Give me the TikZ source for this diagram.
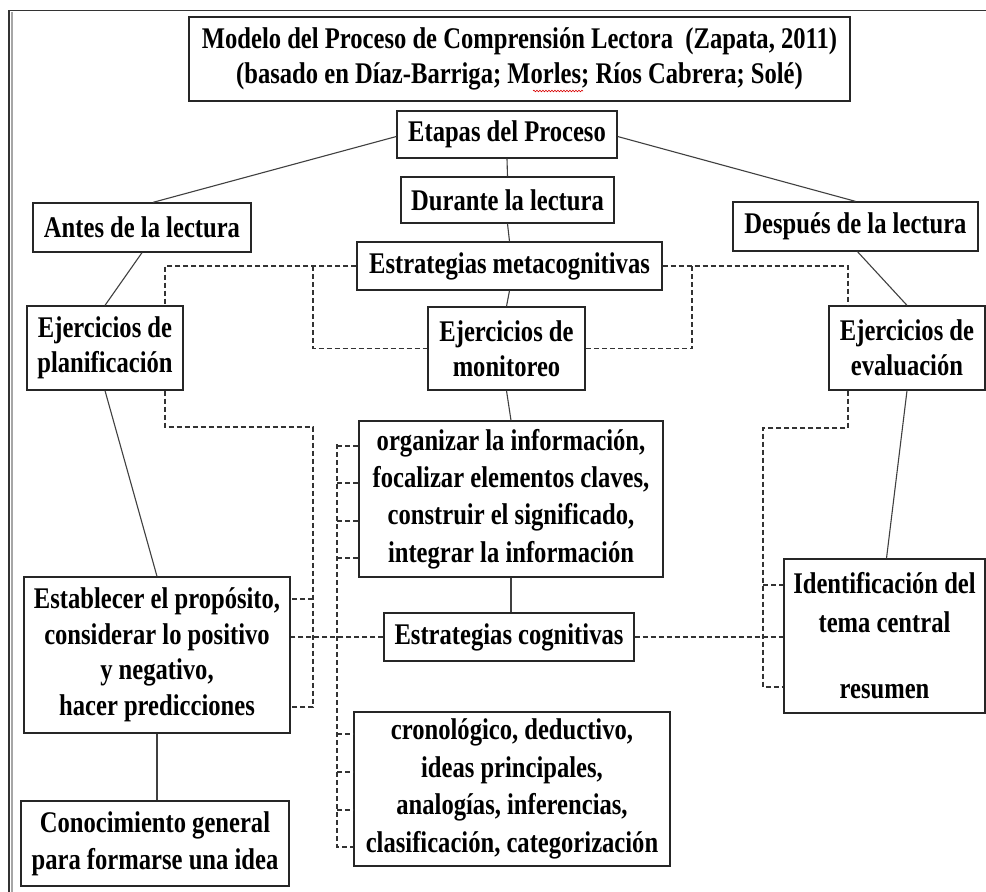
\documentclass[tikz,border=0pt]{standalone}
\usepackage{fontspec}
\setmainfont{Liberation Serif}[FakeStretch=0.82]
\usetikzlibrary{decorations.pathmorphing,calc}
\begin{document}
\begin{tikzpicture}[x=1pt,y=-1pt,
  box/.style={draw=black!85, line width=1.3pt, fill=white, inner sep=0pt, align=center,
    font=\bfseries\fontsize{30}{36.5}\selectfont},
  link/.style={draw=black!75, line width=1.1pt},
  dlink/.style={draw=black!80, line width=1.1pt, dash pattern=on 5pt off 3pt}]
\useasboundingbox (0,0) rectangle (986,892);
\fill[white] (0,0) rectangle (986,892);
% frame
\draw[line width=1.6pt, black!80] (986,10.5) -- (9,10.5) -- (9,892);
\draw[line width=1.2pt, black!35] (12,12) -- (12,892);

% boxes
\node[box, minimum width=661pt, minimum height=84pt, font=\bfseries\fontsize{30}{34.5}\selectfont] (title) at (519.5,59)
  {Modelo del Proceso de Comprensión Lectora\ \ (Zapata, 2011)\\(basado en Díaz-Barriga; Morles; Ríos Cabrera; Solé)};
\node[box, minimum width=220pt, minimum height=47pt] (etapas) at (507,134.5) {Etapas del Proceso};
\node[box, minimum width=213pt, minimum height=46pt] (durante) at (507.5,200) {Durante la lectura};
\node[box, minimum width=218pt, minimum height=49pt] (antes) at (142,227.5) {Antes de la lectura};
\node[box, minimum width=245pt, minimum height=49pt] (despues) at (855.5,226.5) {Después de la lectura};
\node[box, minimum width=305pt, minimum height=48pt] (meta) at (509.5,266) {Estrategias metacognitivas};
\node[box, minimum width=156pt, minimum height=84pt, font=\bfseries\fontsize{30}{35}\selectfont] (plan) at (105,348) {Ejercicios de\\planificación};
\node[box, minimum width=157pt, minimum height=83pt, font=\bfseries\fontsize{30}{35}\selectfont] (monit) at (506.5,348.5) {Ejercicios de\\monitoreo};
\node[box, minimum width=156pt, minimum height=84pt, font=\bfseries\fontsize{30}{35}\selectfont] (evalu) at (907,348) {Ejercicios de\\evaluación};
\node[box, minimum width=304pt, minimum height=156pt, font=\bfseries\fontsize{30}{37.3}\selectfont] (organ) at (511,499)
  {organizar la información,\\focalizar elementos claves,\\construir el significado,\\integrar la información};
\node[box, minimum width=266pt, minimum height=156pt, font=\bfseries\fontsize{30}{35.5}\selectfont] (estab) at (157,655)
  {Establecer el propósito,\\considerar lo positivo\\y negativo,\\hacer predicciones};
\node[box, minimum width=250pt, minimum height=48pt] (cogn) at (509,637) {Estrategias cognitivas};
\node[box, minimum width=201pt, minimum height=154pt, font=\bfseries\fontsize{30}{39}\selectfont] (ident) at (884.5,636)
  {Identificación del\\tema central\\[27pt]resumen};
\node[box, minimum width=316pt, minimum height=154pt, font=\bfseries\fontsize{30}{37.7}\selectfont] (crono) at (512,789)
  {cronológico, deductivo,\\ideas principales,\\analogías, inferencias,\\clasificación, categorización};
\node[box, minimum width=268pt, minimum height=85pt, font=\bfseries\fontsize{30}{37}\selectfont] (conoc) at (155,843.5)
  {Conocimiento general\\para formarse una idea};

% spell-check mark
\draw[red!85!black, line width=0.6pt, decorate, decoration={snake, amplitude=0.8pt, segment length=3pt}] (533,91) -- (583,91);

% solid connectors
\draw[link] ([yshift=-2pt]etapas.west) -- ([xshift=11pt]antes.north);
\draw[link] ([yshift=-2pt]etapas.east) -- (despues.north);
\draw[link] (etapas.south) -- (durante.north);
\draw[link] (durante.south) -- (meta.north);
\draw[link] (antes.south) -- (plan.north);
\draw[link] ([xshift=2pt]despues.south) -- (evalu.north);
\draw[link] (meta.south) -- (monit.north);
\draw[link] (monit.south) -- (organ.north);
\draw[link] (plan.south) -- (estab.north);
\draw[link] (evalu.south) -- ([xshift=2pt]ident.north);
\draw[link] (organ.south) -- (organ.south |- cogn.north);
\draw[link] (estab.south) -- (estab.south |- conoc.north);

% dashed connectors
\coordinate (ml) at (313,266);
\coordinate (mr) at (692,266);
\coordinate (lb) at (313,427);
\coordinate (lbb) at (313,707);
\coordinate (lt) at (313,599);
\coordinate (rb) at (763,428);
\coordinate (rbb) at (763,687);
\coordinate (rt) at (763,585);
\coordinate (ct) at (337,444);
\coordinate (cb) at (337,847);

\draw[dlink] (meta.west) -| ([xshift=60pt]plan.north);
\draw[dlink] ([xshift=60pt]plan.south) |- (lb) -- (lbb) -- (lbb -| estab.east);
\draw[dlink] (lt) -- (lt -| estab.east);
\draw[dlink] (ml) |- (monit.west);
\draw[dlink] (mr) |- (monit.east);
\draw[dlink] (meta.east) -| ([xshift=-59pt]evalu.north);
\draw[dlink] ([xshift=-59pt]evalu.south) |- (rb) -- (rbb) -- (rbb -| ident.west);
\draw[dlink] (rt) -- (rt -| ident.west);
\draw[dlink] (cogn.east) -- (cogn.east -| ident.west);
\draw[dlink] (cogn.west) -- (cogn.west -| estab.east);
\draw[dlink] (ct) -- (cb) -- (cb -| crono.west);
\foreach \yy in {446,483,521,558} {
  \coordinate (tk) at (337,\yy);
  \draw[dlink] (tk) -- (tk -| organ.west);
}
\foreach \yy in {734,772,810} {
  \coordinate (tk) at (337,\yy);
  \draw[dlink] (tk) -- (tk -| crono.west);
}
\end{tikzpicture}
\end{document}
